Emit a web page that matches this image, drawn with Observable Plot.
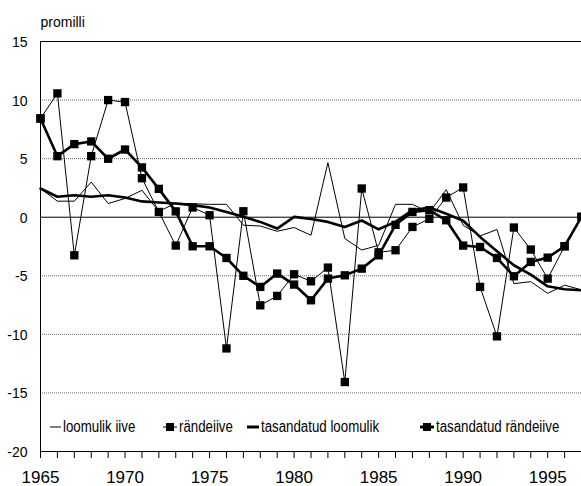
<!DOCTYPE html>
<html>
<head>
<meta charset="utf-8">
<script src="https://cdn.jsdelivr.net/npm/d3@7"></script>
<script src="https://cdn.jsdelivr.net/npm/@observablehq/plot@0.6"></script>
<style>
  html, body { margin: 0; padding: 0; background: #fff; }
  #wrap { position: relative; width: 581px; height: 486px; overflow: hidden; }
  #legend { position: absolute; left: 0; top: 0; width: 581px; height: 486px; pointer-events: none;
            font-family: "Liberation Sans", Arial, sans-serif; font-size: 16px; color: #000; }
  .li { position: absolute; top: 418px; height: 18px; display: flex; align-items: center; white-space: nowrap; }
  .li svg { display: block; margin-right: 2px; }
  .li span { display: inline-block; transform: scaleX(0.83); transform-origin: left center; }
</style>
</head>
<body>
<div id="wrap"><div id="chart"></div><div id="legend"></div></div>
<script>
const years = [1965,1966,1967,1968,1969,1970,1971,1972,1973,1974,1975,1976,1977,1978,1979,1980,1981,1982,1983,1984,1985,1986,1987,1988,1989,1990,1991,1992,1993,1994,1995,1996,1997];
const loomulikIive = [2.45,1.37,1.37,3.0,1.17,1.6,2.3,0.5,1.2,1.15,1.1,1.1,-0.68,-0.75,-1.2,-0.88,-1.54,4.65,-1.82,-2.8,-2.4,1.1,1.1,0.4,2.35,-0.68,-1.6,-1.05,-5.67,-5.5,-6.5,-5.8,-6.2];
const randeiive = [8.43,10.57,-3.25,5.21,10.0,9.83,3.33,0.45,-2.42,0.83,0.17,-11.2,0.51,-7.52,-6.72,-4.87,-5.47,-4.3,-14.07,2.45,-3.0,-2.82,-0.83,-0.14,1.68,2.54,-5.95,-10.17,-0.88,-2.76,-5.24,-2.48,0.03];
const tasandatudLoomulik = [2.45,1.75,1.88,1.74,1.88,1.68,1.35,1.25,1.17,1.03,0.83,0.45,0.03,-0.4,-0.97,0.03,-0.15,-0.4,-0.83,-0.28,-1.03,-0.4,0.6,0.83,0.3,-0.3,-1.68,-2.9,-4.1,-4.9,-5.9,-6.15,-6.24];
const tasandatudRandeiive = [8.43,5.21,6.24,6.47,4.99,5.78,4.25,2.42,0.5,-2.48,-2.48,-3.48,-5.0,-5.95,-4.81,-5.75,-7.09,-5.24,-4.96,-4.39,-3.25,-0.65,0.45,0.6,-0.26,-2.42,-2.54,-3.48,-5.04,-3.82,-3.45,-2.48,0.03];
const yTicks = [-20,-15,-10,-5,0,5,10,15];
const dottedGrid = [-15,-10,-5,5,10];
const solidGrid = [0,15];
const yLabel = "promilli";
const seriesNames = ["loomulik iive","rändeiive","tasandatud loomulik","tasandatud rändeiive"];

const data = years.map((year, i) => ({
  year,
  loomulik: loomulikIive[i],
  rande: randeiive[i],
  tLoomulik: tasandatudLoomulik[i],
  tRande: tasandatudRandeiive[i]
}));

const regular = '"Liberation Sans", Arial, sans-serif';

const chart = Plot.plot({
  width: 581,
  height: 486,
  marginLeft: 40,
  marginRight: 0,
  marginTop: 41,
  marginBottom: 35,
  style: { fontFamily: regular, background: "white", overflow: "hidden" },
  x: { domain: [1965, 1997] },
  y: { domain: [-20, 15] },
  marks: [
    Plot.ruleY(dottedGrid, { stroke: "#666", strokeDasharray: "1,1", strokeWidth: 1 }),
    Plot.ruleY(solidGrid, { stroke: "#000", strokeWidth: 1 }),
    Plot.ruleY([-20], { stroke: "#000", strokeWidth: 1 }),
    Plot.ruleX([1965], { stroke: "#000", strokeWidth: 1 }),
    Plot.axisY({ ticks: yTicks, tickSize: 0, tickPadding: 13, fontSize: 14, label: null, dy: 1,
                 tickFormat: d => String(d) }),
    Plot.axisX({ ticks: years, tickSize: 7, tickPadding: 12, fontSize: 17,
                 tickFormat: d => d % 5 === 0 ? String(d) : "", label: null, ariaLabel: "x-axis tick label" }),
    Plot.text([yLabel], { frameAnchor: "top-left", dx: 0, dy: -24, fontSize: 14, textAnchor: "start" }),
    Plot.line(data, { x: "year", y: "loomulik", stroke: "#000", strokeWidth: 1 }),
    Plot.line(data, { x: "year", y: "rande", stroke: "#000", strokeWidth: 1 }),
    Plot.dot(data, { x: "year", y: "rande", symbol: "square", r: 4.7, fill: "#000", stroke: "none" }),
    Plot.line(data, { x: "year", y: "tLoomulik", stroke: "#000", strokeWidth: 2.6 }),
    Plot.line(data, { x: "year", y: "tRande", stroke: "#000", strokeWidth: 2.6 }),
    Plot.dot(data, { x: "year", y: "tRande", symbol: "square", r: 4.7, fill: "#000", stroke: "none" })
  ]
});
document.getElementById("chart").appendChild(chart);

// condense the x tick labels horizontally (reference uses a narrow face)
d3.select(chart).selectAll('g[aria-label="x-axis tick label"] text').each(function () {
  const t = d3.select(this);
  const x = t.attr("x") || 0, y = t.attr("y") || 0;
  const tr = t.attr("transform") || "";
  t.attr("x", null).attr("y", null)
   .attr("transform", `${tr} translate(${x},${y}) scale(0.85,1)`);
});

// legend
const legendItems = [
  { name: seriesNames[0], left: 50, w: 11, sw: 1, marker: false },
  { name: seriesNames[1], left: 163, w: 14, sw: 1, marker: true },
  { name: seriesNames[2], left: 247, w: 12, sw: 3, marker: false },
  { name: seriesNames[3], left: 420, w: 14, sw: 3, marker: true }
];
const legend = document.getElementById("legend");
legendItems.forEach(it => {
  const d = document.createElement("div");
  d.className = "li";
  d.style.left = it.left + "px";
  const h = 12;
  let sv = `<svg width="${it.w}" height="${h}"><line x1="0" x2="${it.w}" y1="${h/2}" y2="${h/2}" stroke="#000" stroke-width="${it.sw}"/>`;
  if (it.marker) sv += `<rect x="${it.w/2-4}" y="${h/2-4}" width="8" height="8" fill="#000"/>`;
  sv += `</svg>`;
  d.innerHTML = sv + `<span>${it.name}</span>`;
  legend.appendChild(d);
});
</script>
</body>
</html>
